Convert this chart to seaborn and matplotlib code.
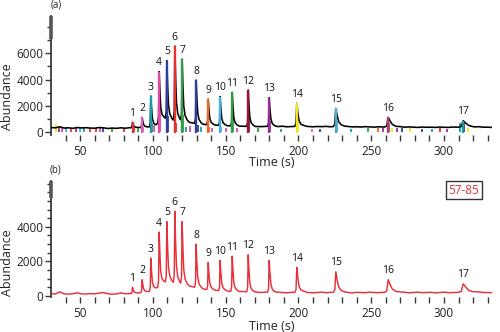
import numpy as np
import matplotlib
matplotlib.use("Agg")
import matplotlib.pyplot as plt
from matplotlib.ticker import FixedLocator
import seaborn as sns

# ---------------- data ----------------
peak_ids = [str(i) for i in range(1, 18)]
peak_rt = [86.0, 92.6, 98.6, 104.3, 109.6, 115.1, 120.1, 129.7, 138.0,
           146.2, 154.5, 165.5, 179.9, 198.9, 225.7, 261.7, 313.2]
peak_width = [1, 1, 1, 1, 1, 1, 1, 1, 1, 1, 1, 1, 1.1, 1.4, 1.8, 2.6, 3.5]

# apex abundance of each compound
apex_tic = [720, 1100, 2740, 4600, 5440, 6570, 5570, 3960, 2500,
            2680, 3020, 3200, 2600, 2180, 1790, 1100, 840]
apex_ion = [500, 940, 2180, 3700, 4300, 4900, 4300, 3000, 1940,
            2060, 2300, 2380, 2060, 1650, 1400, 940, 700]

# background level sampled every 3 s from 30 s to 333 s
base_t = np.arange(30, 334, 3)
base_tic = [320, 300, 380, 280, 300, 260, 320, 290, 310, 280,
            270, 320, 300, 250, 280, 260, 300, 270, 310, 300,
            320, 330, 350, 380, 450, 900, 1000, 950, 850, 800,
            800, 760, 700, 640, 600, 560, 540, 520, 500, 480,
            470, 450, 440, 430, 420, 410, 420, 400, 390, 410,
            420, 390, 400, 420, 380, 400, 410, 390, 420, 400,
            380, 400, 390, 410, 380, 400, 420, 380, 390, 370,
            380, 360, 390, 370, 350, 380, 360, 350, 380, 340,
            360, 340, 370, 350, 330, 360, 340, 350, 330, 360,
            340, 330, 360, 350, 340, 370, 350, 330, 360, 340,
            350, 330]
base_ion = [130, 110, 240, 120, 110, 130, 180, 120, 110, 140,
            120, 170, 200, 130, 100, 120, 180, 130, 140, 150,
            170, 200, 230, 290, 400, 600, 760, 820, 760, 690,
            650, 600, 560, 500, 450, 400, 370, 340, 320, 300,
            300, 270, 280, 250, 260, 240, 220, 230, 200, 220,
            210, 190, 220, 200, 180, 210, 200, 190, 230, 200,
            180, 200, 220, 190, 210, 200, 220, 190, 200, 180,
            210, 200, 190, 220, 200, 190, 210, 200, 220, 190,
            200, 210, 180, 200, 220, 190, 200, 210, 180, 200,
            220, 190, 200, 210, 200, 220, 190, 200, 210, 190,
            200, 190]

# deconvolved component colours for the numbered peaks
peak_color = ["red", "pink", "teal", "hotpink", "navy", "red", "green", "navy",
              "orange", "lightblue", "green", "darkred", "purple", "yellow",
              "skyteal", "maroon", "teal2"]

# smaller deconvolved components
minor_rt = [33.5, 35.5, 37.5, 40, 44, 47, 50, 53, 57, 61, 63.5, 66, 72, 80,
            86.8, 90, 93.5, 99.2, 101, 105.2, 110.4, 116, 121, 123, 125.5,
            131, 133, 138.8, 140.5, 147, 150, 155.2, 158, 166.2, 172, 180.6,
            188, 199.5, 209, 215, 226.4, 236, 248, 255, 258, 262.5, 264.5,
            268, 271, 277, 285, 292, 297, 302, 311, 313.8, 316.5]
minor_h = [600, 350, 300, 380, 250, 300, 380, 300, 220, 280, 320, 260, 200,
           250, 300, 250, 350, 700, 500, 2000, 1200, 700, 1300, 400, 450,
           500, 400, 350, 300, 350, 250, 1500, 250, 1500, 250, 800,
           200, 1000, 200, 200, 800, 200, 250, 300, 250, 700, 300,
           300, 250, 250, 200, 220, 250, 220, 700, 700, 300]
minor_color = ["yellow", "purple", "hotpink", "lightblue", "red", "purple",
               "lightblue", "teal", "red", "red", "hotpink", "navy", "green",
               "red", "red", "green", "pink", "teal", "hotpink", "hotpink",
               "navy", "red", "green", "teal", "hotpink", "navy", "teal",
               "orange", "hotpink", "lightblue", "hotpink", "green", "hotpink",
               "darkred", "green", "purple", "teal", "yellow", "pink",
               "navy", "skyteal", "teal", "green", "orange", "purple",
               "maroon", "yellow", "purple", "navy", "yellow", "navy",
               "teal", "red", "purple", "teal2", "navy", "yellow"]

palette = {
    "red": "#e8302c", "pink": "#d562b6", "teal": "#17a0a0",
    "hotpink": "#e04aa8", "navy": "#2f3f9e", "green": "#2f9e45",
    "orange": "#f26522", "lightblue": "#3fb2e6", "darkred": "#9c1631",
    "purple": "#9c2f93", "yellow": "#f2e51d", "skyteal": "#4aaccc",
    "maroon": "#a2436e", "teal2": "#1f97a5",
}
ION_RED = "#e8303a"

# peak shape: offsets (in units of the peak width) and relative height
shape_dt = np.array([-1.0, -0.4, 0.0, 0.5, 1.1, 2.0, 3.5, 5.0])
shape_rel = np.array([0.0, 0.12, 1.0, 0.6, 0.25, 0.1, 0.03, 0.0])


def build_trace(base, apex):
    base = np.asarray(base, dtype=float)
    pts = [base_t.astype(float)]
    for rt, w in zip(peak_rt, peak_width):
        pts.append(rt + shape_dt * w)
    t = np.unique(np.concatenate(pts))
    t = t[(t >= 30) & (t <= 333)]
    y = np.interp(t, base_t, base)
    for rt, w, a in zip(peak_rt, peak_width, apex):
        amp = a - np.interp(rt, base_t, base)
        y = y + np.interp(t, rt + shape_dt * w, shape_rel * amp,
                          left=0.0, right=0.0)
    return t, y


# ---------------- style ----------------
sns.set_theme(style="white")
plt.rcParams["font.family"] = ["Open Sans", "DejaVu Sans"]
AX_COL = "#3a3a3a"

fig = plt.figure(figsize=(5.0, 3.32), dpi=100)
ax_a = fig.add_axes([0.102, 0.5934, 0.882, 0.3584])
ax_b = fig.add_axes([0.102, 0.1054, 0.882, 0.3494])


def style_axes(ax, ymin, ymax, major, minor_step, thick_from, lab_y, xlab_y):
    ax.set_xlim(30, 333)
    ax.set_ylim(ymin, ymax)
    for s in ["top", "right", "bottom"]:
        ax.spines[s].set_visible(False)
    ax.spines["left"].set_color(AX_COL)
    ax.spines["left"].set_linewidth(1.3)
    ax.xaxis.set_major_locator(FixedLocator([50, 100, 150, 200, 250, 300]))
    ax.xaxis.set_minor_locator(FixedLocator(list(range(40, 331, 10))))
    ax.yaxis.set_major_locator(FixedLocator(major))
    ax.yaxis.set_minor_locator(FixedLocator(list(np.arange(0, ymax, minor_step))))
    ax.tick_params(axis="x", which="both", direction="out", length=4.5,
                   width=1.0, color=AX_COL, pad=3, labelsize=8.5,
                   bottom=True, labelcolor="#222222")
    ax.tick_params(axis="y", which="major", direction="out", length=4.5,
                   width=1.0, color=AX_COL, pad=1, labelsize=8.5,
                   left=True, labelcolor="#222222")
    ax.tick_params(axis="y", which="minor", direction="out", length=3,
                   width=1.0, color=AX_COL, left=True)
    ax.grid(False)
    ax.set_facecolor("white")
    # heavier top section of the abundance axis
    ax.plot([30, 30], [thick_from, ymax], color="#555555", lw=2.6,
            clip_on=False, solid_capstyle="butt", zorder=5)
    ax.set_ylabel("Abundance", fontsize=9, color="#222222")
    ax.yaxis.set_label_coords(-0.085, lab_y)
    ax.set_xlabel("Time (s)", fontsize=9, color="#222222", va="top")
    ax.xaxis.set_label_coords(0.5, xlab_y)


# ---------------- (a) total ion chromatogram ----------------
style_axes(ax_a, -250, 8870, [0, 2000, 4000, 6000], 1000, 7100, 0.322, -0.18)

for rt, h, c in zip(minor_rt, minor_h, minor_color):
    ax_a.vlines(rt, 0, h, color=palette[c], lw=1.3, zorder=2)

t_a, y_a = build_trace(base_tic, apex_tic)
sns.lineplot(x=t_a, y=y_a, ax=ax_a, color="black", lw=1.15,
             estimator=None, zorder=3)

for rt, a, c in zip(peak_rt, apex_tic, peak_color):
    ax_a.vlines(rt, -60, a, color=palette[c], lw=1.7, zorder=4)

for pid, rt, a in zip(peak_ids, peak_rt, apex_tic):
    ax_a.annotate(pid, (rt, a), xytext=(0, 2.5), textcoords="offset points",
                  ha="center", va="bottom", fontsize=7.5, color="#111111")

ax_a.text(0.011, 1.045, "(a)", transform=ax_a.transAxes, ha="center",
          va="bottom", fontsize=7, color="#222222")

# ---------------- (b) extracted ion 57-85 ----------------
style_axes(ax_b, -60, 6650, [0, 2000, 4000], 500, 5660, 0.293, -0.2)

t_b, y_b = build_trace(base_ion, apex_ion)
sns.lineplot(x=t_b, y=y_b, ax=ax_b, color=ION_RED, lw=1.05,
             estimator=None, zorder=3)

for pid, rt, a in zip(peak_ids, peak_rt, apex_ion):
    ax_b.annotate(pid, (rt, a), xytext=(0, 2.5), textcoords="offset points",
                  ha="center", va="bottom", fontsize=7.5, color="#111111")

ax_b.text(0.011, 1.045, "(b)", transform=ax_b.transAxes, ha="center",
          va="bottom", fontsize=7, color="#222222")

ax_b.text(0.936, 0.922, "57-85", transform=ax_b.transAxes, ha="center",
          va="center", fontsize=8.5, color=ION_RED,
          bbox=dict(boxstyle="square,pad=0.22", fc="white", ec="#333333",
                    lw=1.0))

fig.savefig("out.png", dpi=100)
